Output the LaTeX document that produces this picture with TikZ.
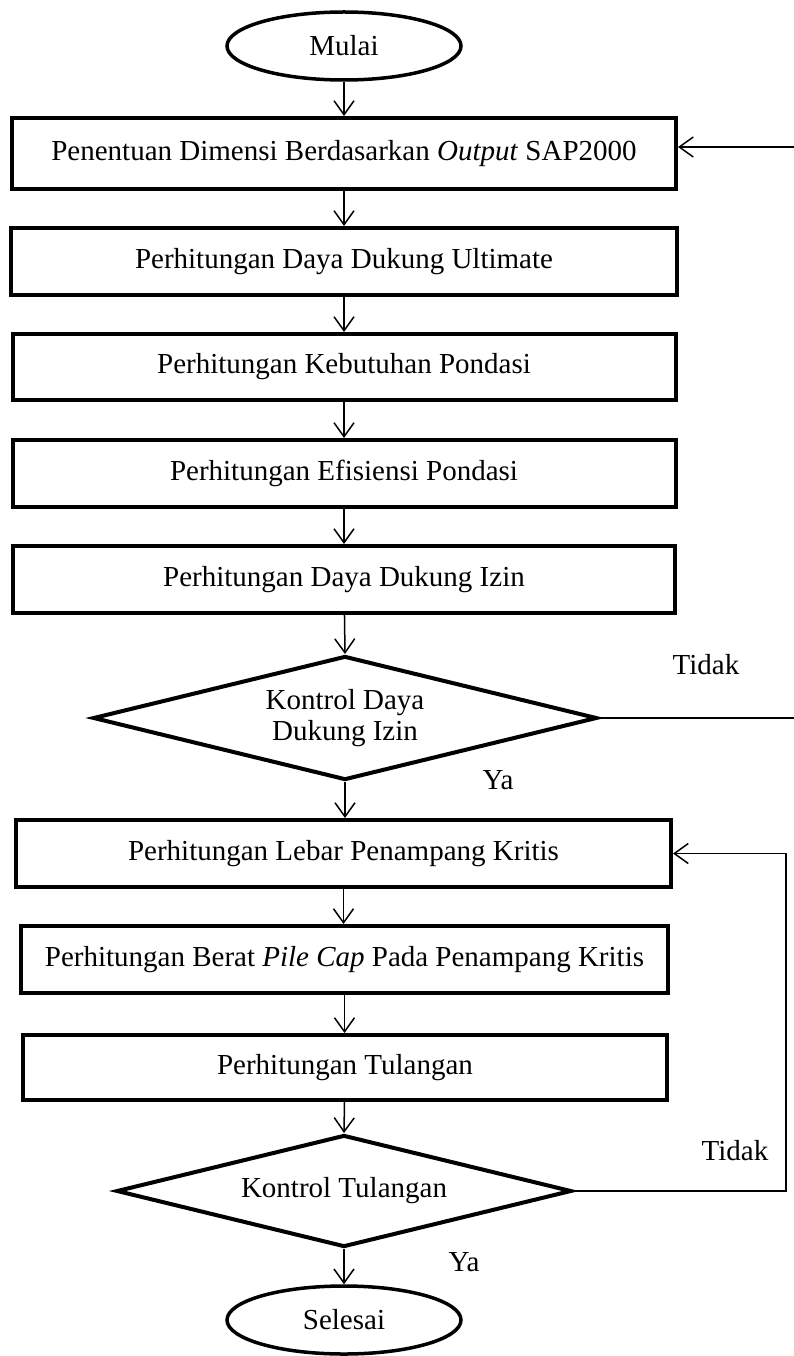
\documentclass[tikz,border=0pt]{standalone}
\usepackage{fontspec}
\setmainfont{Liberation Serif}
\usetikzlibrary{shapes.geometric,arrows.meta}

\begin{document}
\begin{tikzpicture}[x=1pt,y=-1pt,
  every node/.style={font=\fontsize{29}{29}\selectfont},
  procbox/.style={draw,line width=4pt,rectangle,inner sep=0pt,align=center},
  terminal/.style={draw,line width=3.5pt,ellipse,inner sep=0pt,minimum width=234pt,minimum height=68pt},
  decision/.style={draw,line width=4pt,diamond,aspect=4.06,inner sep=0pt,align=center},
  flow/.style={line width=1.5pt,-{Straight Barb[length=14pt,width=20pt]}},
  label/.style={inner sep=0pt}
]
\useasboundingbox (0,0) rectangle (793,1356);

% start / end
\node[terminal] (start) at (344,46) {Mulai};

% first block of steps
\node[procbox,minimum width=664pt,minimum height=71pt] (dim) at (344,153.5)
  {Penentuan Dimensi Berdasarkan \textit{Output} SAP2000};
\node[procbox,minimum width=666pt,minimum height=67pt] (ult) at (344,261.5)
  {Perhitungan Daya Dukung Ultimate};
\node[procbox,minimum width=663pt,minimum height=66pt] (keb) at (344,367)
  {Perhitungan Kebutuhan Pondasi};
\node[procbox,minimum width=663pt,minimum height=67pt] (efi) at (344,473.5)
  {Perhitungan Efisiensi Pondasi};
\node[procbox,minimum width=662pt,minimum height=67pt] (izin) at (344,579.5)
  {Perhitungan Daya Dukung Izin};

\node[decision,minimum width=504pt,minimum height=124pt] (cek1) at (345,718)
  {Kontrol Daya\\[2pt]Dukung Izin};

% second block of steps
\node[procbox,minimum width=655pt,minimum height=67pt] (leb) at (343.5,853.5)
  {Perhitungan Lebar Penampang Kritis};
\node[procbox,minimum width=647pt,minimum height=67pt] (ber) at (344.5,959.5)
  {Perhitungan Berat \textit{Pile Cap} Pada Penampang Kritis};
\node[procbox,minimum width=644pt,minimum height=65pt] (tul) at (345,1067.5)
  {Perhitungan Tulangan};

\node[decision,minimum width=455pt,minimum height=112pt] (cek2) at (344,1191)
  {Kontrol Tulangan};

\node[terminal] (finish) at (344,1320) {Selesai};

% main flow
\draw[flow] (start) -- (start |- dim.north);
\draw[flow] (dim) -- (dim |- ult.north);
\draw[flow] (ult) -- (ult |- keb.north);
\draw[flow] (keb) -- (keb |- efi.north);
\draw[flow] (efi) -- (efi |- izin.north);
\draw[flow] (izin) -- (cek1.north);
\draw[flow] (cek1.south) -- (cek1.south |- leb.north);
\draw[flow] (leb) -- (leb |- ber.north);
\draw[flow] (ber) -- (ber |- tul.north);
\draw[flow] (tul) -- (cek2.north);
\draw[flow] (cek2.south) -- (finish.north);

% return loops
\coordinate (loopA1) at (797,718);
\coordinate (loopA2) at (797,147);
\draw[flow] (cek1.east) -- (loopA1) -- (loopA2) -- (dim.east |- loopA2);

\coordinate (loopB1) at (786,1191);
\coordinate (loopB2) at (786,853.5);
\draw[flow] (cek2.east) -- (loopB1) -- (loopB2) -- (leb.east |- loopB2);

% branch labels
\node[label] (no1) at (706,665) {Tidak};
\node[label] (yes1) at (498,780) {Ya};
\node[label] (no2) at (735,1151) {Tidak};
\node[label] (yes2) at (464,1262) {Ya};
\end{tikzpicture}
\end{document}
